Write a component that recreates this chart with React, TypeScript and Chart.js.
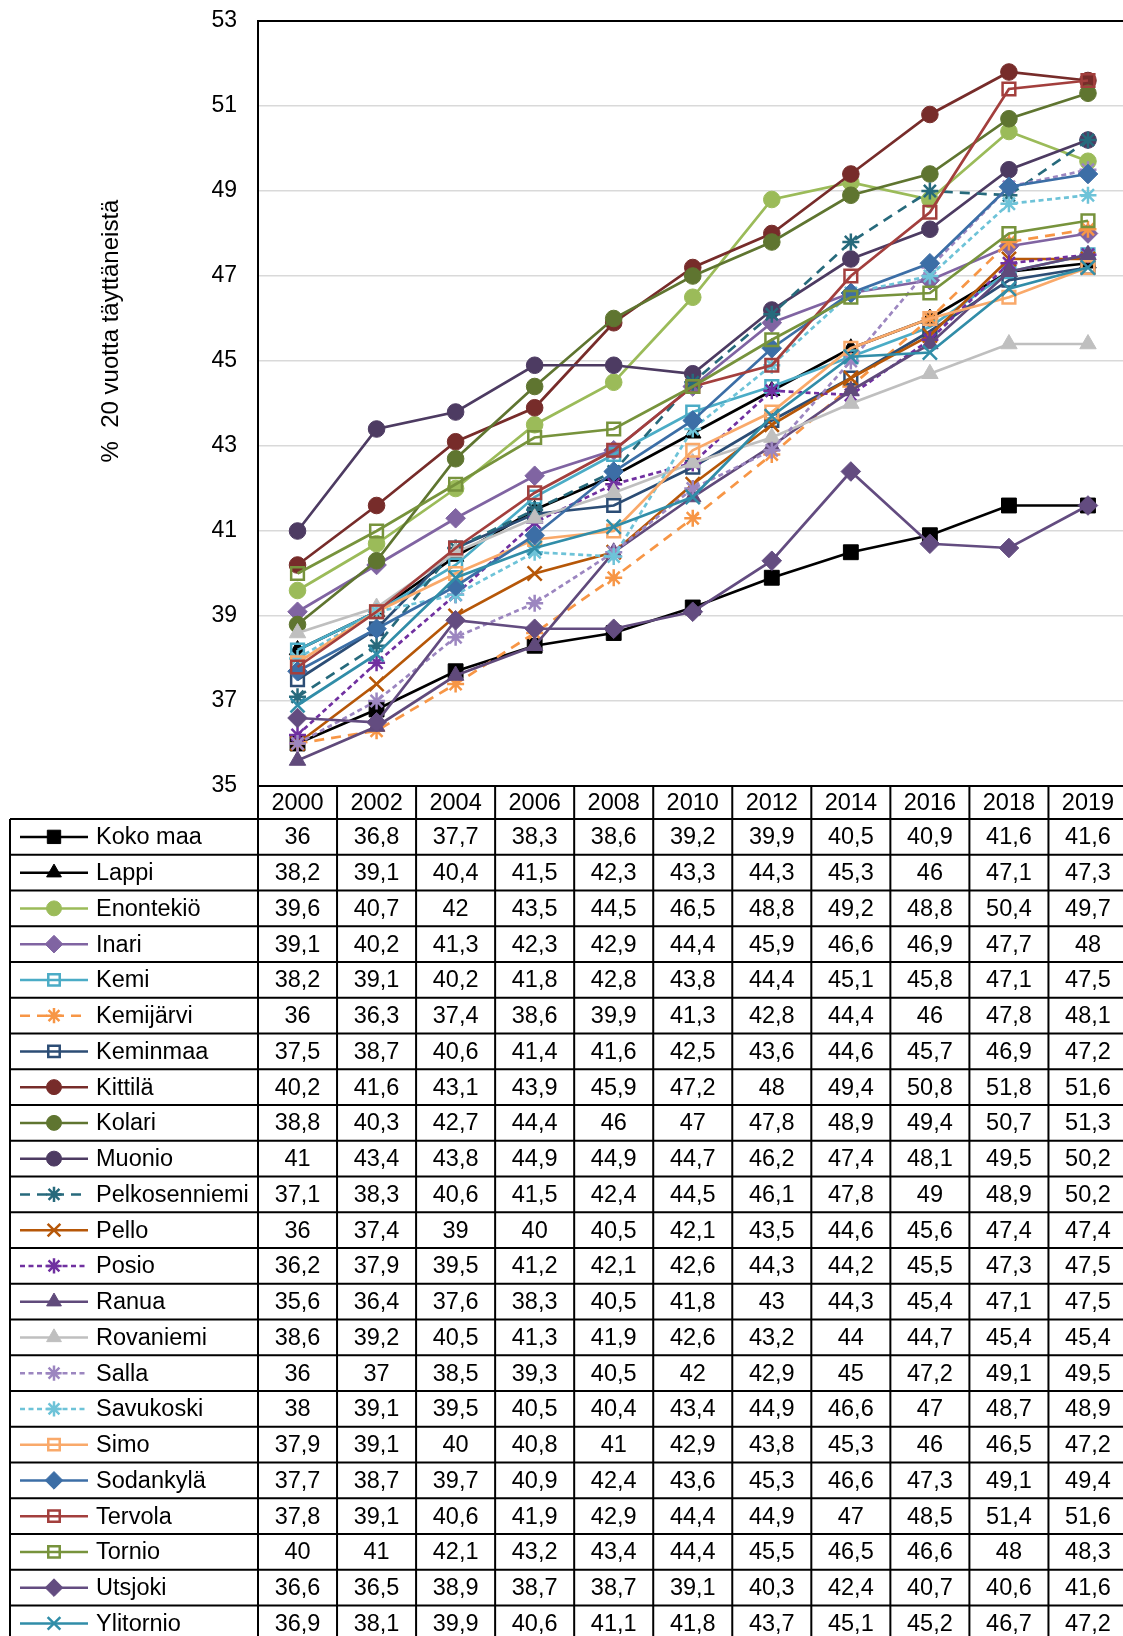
import React, { useEffect, useRef } from 'react';
import { Chart, registerables } from 'chart.js';
import { drawPoint } from 'chart.js/helpers';

Chart.register(...registerables);

// ---------- DATA ----------
const years = ['2000', '2002', '2004', '2006', '2008', '2010', '2012', '2014', '2016', '2018', '2019'];
const yTicks = [35, 37, 39, 41, 43, 45, 47, 49, 51, 53];
const yTitle = '%  20 vuotta täyttäneistä';

const kokoMaa = [36, 36.8, 37.7, 38.3, 38.6, 39.2, 39.9, 40.5, 40.9, 41.6, 41.6];
const lappi = [38.2, 39.1, 40.4, 41.5, 42.3, 43.3, 44.3, 45.3, 46, 47.1, 47.3];
const enontekio = [39.6, 40.7, 42, 43.5, 44.5, 46.5, 48.8, 49.2, 48.8, 50.4, 49.7];
const inari = [39.1, 40.2, 41.3, 42.3, 42.9, 44.4, 45.9, 46.6, 46.9, 47.7, 48];
const kemi = [38.2, 39.1, 40.2, 41.8, 42.8, 43.8, 44.4, 45.1, 45.8, 47.1, 47.5];
const kemijarvi = [36, 36.3, 37.4, 38.6, 39.9, 41.3, 42.8, 44.4, 46, 47.8, 48.1];
const keminmaa = [37.5, 38.7, 40.6, 41.4, 41.6, 42.5, 43.6, 44.6, 45.7, 46.9, 47.2];
const kittila = [40.2, 41.6, 43.1, 43.9, 45.9, 47.2, 48, 49.4, 50.8, 51.8, 51.6];
const kolari = [38.8, 40.3, 42.7, 44.4, 46, 47, 47.8, 48.9, 49.4, 50.7, 51.3];
const muonio = [41, 43.4, 43.8, 44.9, 44.9, 44.7, 46.2, 47.4, 48.1, 49.5, 50.2];
const pelkosenniemi = [37.1, 38.3, 40.6, 41.5, 42.4, 44.5, 46.1, 47.8, 49, 48.9, 50.2];
const pello = [36, 37.4, 39, 40, 40.5, 42.1, 43.5, 44.6, 45.6, 47.4, 47.4];
const posio = [36.2, 37.9, 39.5, 41.2, 42.1, 42.6, 44.3, 44.2, 45.5, 47.3, 47.5];
const ranua = [35.6, 36.4, 37.6, 38.3, 40.5, 41.8, 43, 44.3, 45.4, 47.1, 47.5];
const rovaniemi = [38.6, 39.2, 40.5, 41.3, 41.9, 42.6, 43.2, 44, 44.7, 45.4, 45.4];
const salla = [36, 37, 38.5, 39.3, 40.5, 42, 42.9, 45, 47.2, 49.1, 49.5];
const savukoski = [38, 39.1, 39.5, 40.5, 40.4, 43.4, 44.9, 46.6, 47, 48.7, 48.9];
const simo = [37.9, 39.1, 40, 40.8, 41, 42.9, 43.8, 45.3, 46, 46.5, 47.2];
const sodankyla = [37.7, 38.7, 39.7, 40.9, 42.4, 43.6, 45.3, 46.6, 47.3, 49.1, 49.4];
const tervola = [37.8, 39.1, 40.6, 41.9, 42.9, 44.4, 44.9, 47, 48.5, 51.4, 51.6];
const tornio = [40, 41, 42.1, 43.2, 43.4, 44.4, 45.5, 46.5, 46.6, 48, 48.3];
const utsjoki = [36.6, 36.5, 38.9, 38.7, 38.7, 39.1, 40.3, 42.4, 40.7, 40.6, 41.6];
const ylitornio = [36.9, 38.1, 39.9, 40.6, 41.1, 41.8, 43.7, 45.1, 45.2, 46.7, 47.2];

const seriesNames = [
  'Koko maa', 'Lappi', 'Enontekiö', 'Inari', 'Kemi', 'Kemijärvi', 'Keminmaa', 'Kittilä',
  'Kolari', 'Muonio', 'Pelkosenniemi', 'Pello', 'Posio', 'Ranua', 'Rovaniemi', 'Salla',
  'Savukoski', 'Simo', 'Sodankylä', 'Tervola', 'Tornio', 'Utsjoki', 'Ylitornio',
];
const seriesValues = [
  kokoMaa, lappi, enontekio, inari, kemi, kemijarvi, keminmaa, kittila,
  kolari, muonio, pelkosenniemi, pello, posio, ranua, rovaniemi, salla,
  savukoski, simo, sodankyla, tervola, tornio, utsjoki, ylitornio,
];

// ---------- STYLES ----------
const seriesColors = [
  '#000000', '#000000', '#9BBB59', '#8064A2', '#4BACC6', '#F79646', '#2C4D75', '#772C2A',
  '#5F7530', '#4D3B62', '#276A7C', '#B65708', '#7030A0', '#604A7B', '#BFBFBF', '#9C86C0',
  '#6EC3D8', '#F9A96A', '#3C6EA6', '#A33F3D', '#77933C', '#634C80', '#318DA8',
];
// marker kinds: sq = filled square, tri, circ, dia, hsq = hollow square, star, x
const seriesMarkers = [
  'sq', 'tri', 'circ', 'dia', 'hsq', 'star', 'hsq', 'circ',
  'circ', 'circ', 'star', 'x', 'star', 'tri', 'tri', 'star',
  'star', 'hsq', 'dia', 'hsq', 'hsq', 'dia', 'x',
];
// dash kinds: s = solid, l = long dash, d = short dash
const seriesDash = [
  's', 's', 's', 's', 's', 'l', 's', 's',
  's', 's', 'l', 's', 'd', 's', 's', 'd',
  'd', 's', 's', 's', 's', 's', 's',
];

const FONT_FAMILY = '"Liberation Sans", Arial, Helvetica, sans-serif';
const FONT_SIZE = 23.5;
const CANVAS_W = 1140;
const CANVAS_H = 1645;
const AREA_LEFT = 258;
const AREA_TOP = 21;
const AREA_RIGHT = 1131.5;
const AREA_BOTTOM = 786;
const HEADER_H = 33;
const ROW_H = 35.75;
const TABLE_LEFT = 10;
const LEG_X0 = 20;
const LEG_X1 = 88;
const LEG_MARK = 54;
const LEG_TEXT = 96;

function dashFor(kind: string): number[] {
  if (kind === 'l') return [10, 7];
  if (kind === 'd') return [5, 3.5];
  return [];
}

function markerStyle(kind: string, color: string) {
  switch (kind) {
    case 'sq':
      return { pointStyle: 'rect', radius: 10.5, bg: color, bw: 1 };
    case 'tri':
      return { pointStyle: 'triangle', radius: 9.5, bg: color, bw: 1 };
    case 'circ':
      return { pointStyle: 'circle', radius: 8.3, bg: color, bw: 1 };
    case 'dia':
      return { pointStyle: 'rectRot', radius: 9.8, bg: color, bw: 1 };
    case 'hsq':
      return { pointStyle: 'rect', radius: 9, bg: 'rgba(0,0,0,0)', bw: 2.5 };
    case 'star':
      return { pointStyle: 'star', radius: 8.5, bg: color, bw: 2.5 };
    case 'x':
    default:
      return { pointStyle: 'crossRot', radius: 10, bg: color, bw: 2.5 };
  }
}

function fmt(v: number): string {
  return String(v).replace('.', ',');
}

const tablePlugin = {
  id: 'dataTable',
  afterDraw(chart: any) {
    const ctx: CanvasRenderingContext2D = chart.ctx;
    const area = chart.chartArea;
    const xs = chart.scales.x;
    const n = years.length;
    const colW = (area.right - area.left) / n;
    const headTop = area.bottom;
    const headBot = headTop + HEADER_H;
    const tableBottom = headBot + seriesNames.length * ROW_H;

    ctx.save();
    // y axis title
    ctx.save();
    ctx.translate(111, 331);
    ctx.rotate(-Math.PI / 2);
    ctx.font = `24px ${FONT_FAMILY}`;
    ctx.fillStyle = '#000';
    ctx.textAlign = 'center';
    ctx.textBaseline = 'middle';
    ctx.fillText(yTitle, 0, 0);
    ctx.restore();

    // texts
    ctx.font = `${FONT_SIZE}px ${FONT_FAMILY}`;
    ctx.fillStyle = '#000';
    ctx.textAlign = 'center';
    ctx.textBaseline = 'middle';
    years.forEach((y, i) => {
      ctx.fillText(y, xs.getPixelForValue(i), (headTop + headBot) / 2 + 1);
    });
    seriesNames.forEach((name, r) => {
      const cy = headBot + r * ROW_H + ROW_H / 2 + 1;
      ctx.fillStyle = '#000';
      ctx.textAlign = 'center';
      seriesValues[r].forEach((v, i) => {
        ctx.fillText(fmt(v), xs.getPixelForValue(i), cy);
      });
      ctx.textAlign = 'left';
      ctx.fillText(name, LEG_TEXT, cy);

      // legend sample
      const color = seriesColors[r];
      const ly = cy - 1;
      ctx.save();
      ctx.strokeStyle = color;
      ctx.lineWidth = 2.5;
      ctx.setLineDash(dashFor(seriesDash[r]));
      ctx.beginPath();
      ctx.moveTo(LEG_X0, ly);
      ctx.lineTo(LEG_X1, ly);
      ctx.stroke();
      ctx.setLineDash([]);
      const m = markerStyle(seriesMarkers[r], color);
      ctx.fillStyle = m.bg;
      ctx.strokeStyle = color;
      ctx.lineWidth = m.bw;
      drawPoint(ctx, { pointStyle: m.pointStyle as any, radius: m.radius * 0.9, rotation: 0, borderWidth: m.bw }, LEG_MARK, ly);
      ctx.restore();
    });

    // grid lines of table
    ctx.strokeStyle = '#000';
    ctx.lineWidth = 2;
    ctx.setLineDash([]);
    ctx.beginPath();
    ctx.moveTo(area.left, area.top);
    ctx.lineTo(area.right + 20, area.top);
    ctx.moveTo(area.left, headTop);
    ctx.lineTo(area.right + 20, headTop);
    for (let r = 0; r <= seriesNames.length; r++) {
      const y = headBot + r * ROW_H;
      ctx.moveTo(TABLE_LEFT, y);
      ctx.lineTo(area.right + 20, y);
    }
    ctx.moveTo(TABLE_LEFT, headBot);
    ctx.lineTo(TABLE_LEFT, tableBottom + 10);
    for (let i = 0; i <= n; i++) {
      const x = area.left + i * colW;
      ctx.moveTo(x, headTop);
      ctx.lineTo(x, tableBottom + 10);
    }
    ctx.stroke();
    ctx.restore();
  },
};

export default function App() {
  const canvasRef = useRef<HTMLCanvasElement | null>(null);

  useEffect(() => {
    const canvas = canvasRef.current;
    if (!canvas) return;
    const N = seriesNames.length;
    const datasets = seriesNames.map((name, i) => {
      const color = seriesColors[i];
      const m = markerStyle(seriesMarkers[i], color);
      return {
        label: name,
        data: seriesValues[i],
        borderColor: color,
        backgroundColor: color,
        borderWidth: 2.7,
        borderDash: dashFor(seriesDash[i]),
        pointStyle: m.pointStyle,
        pointRadius: m.radius,
        pointBackgroundColor: m.bg,
        pointBorderColor: color,
        pointBorderWidth: m.bw,
        tension: 0,
        fill: false,
        order: N - i,
      };
    });

    const chart = new Chart(canvas, {
      type: 'line',
      data: { labels: years, datasets: datasets as any },
      plugins: [tablePlugin],
      options: {
        responsive: false,
        maintainAspectRatio: false,
        animation: false,
        devicePixelRatio: 1,
        layout: {
          padding: {
            left: 0,
            top: AREA_TOP,
            right: CANVAS_W - AREA_RIGHT,
            bottom: CANVAS_H - AREA_BOTTOM,
          },
        },
        plugins: {
          legend: { display: false },
          tooltip: { enabled: false },
        },
        scales: {
          x: {
            type: 'category',
            offset: true,
            display: false,
          },
          y: {
            min: yTicks[0],
            max: yTicks[yTicks.length - 1],
            afterBuildTicks: (scale: any) => {
              scale.ticks = yTicks.map((v) => ({ value: v }));
            },
            afterFit: (scale: any) => {
              scale.width = AREA_LEFT;
              scale.paddingTop = 0;
              scale.paddingBottom = 0;
            },
            ticks: {
              padding: 21,
              color: '#000',
              font: { family: FONT_FAMILY, size: 23 },
            },
            grid: { color: '#D9D9D9', lineWidth: 1.5, drawTicks: false },
            border: { color: '#000', width: 2 },
          },
        },
      },
    });
    return () => chart.destroy();
  }, []);

  return (
    <div
      style={{
        position: 'fixed',
        left: 0,
        top: 0,
        width: 1123,
        height: 1636,
        overflow: 'hidden',
        background: '#fff',
      }}
    >
      <canvas
        ref={canvasRef}
        width={CANVAS_W}
        height={CANVAS_H}
        style={{ display: 'block', width: CANVAS_W, height: CANVAS_H }}
      />
    </div>
  );
}
